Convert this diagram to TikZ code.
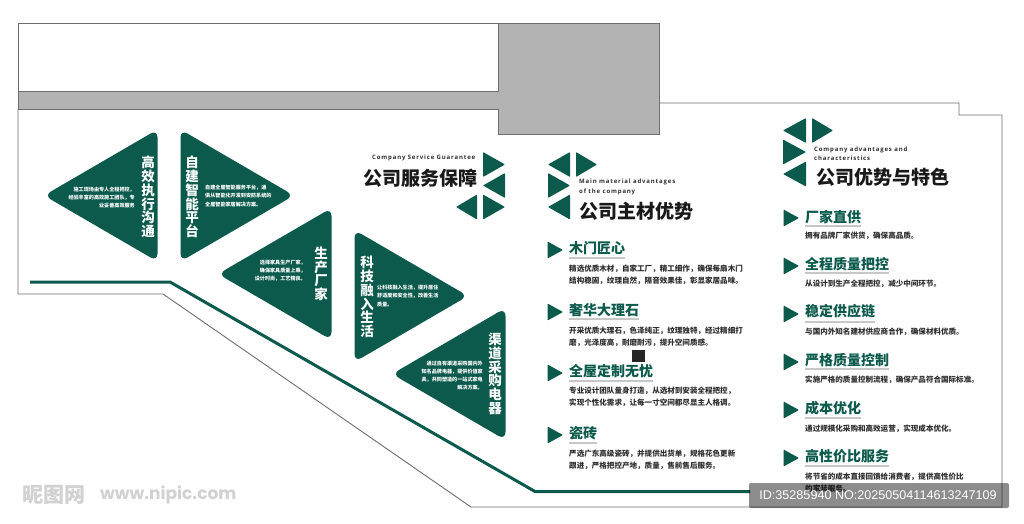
\documentclass[tikz,border=0pt]{standalone}
\usepackage{fontspec}
\setmainfont{Noto Sans CJK SC}
\newfontfamily\latn[LetterSpace=14]{Open Sans}
\newfontfamily\idfont{Liberation Sans}
\newfontfamily\wmfont{Poppins}
\definecolor{dg}{HTML}{0B5A4C}
\definecolor{ol}{HTML}{6E6E6E}
\definecolor{gf}{HTML}{B2B3B2}
\definecolor{bt}{HTML}{2E2E2E}
\tikzset{
  bigtri/.style={fill=dg,rounded corners=8pt},
  smtri/.style={fill=dg,rounded corners=0.8pt},
  wall/.style={draw=ol,line width=0.9pt,line join=miter},
  vtitle/.style={inner sep=0pt,text=white,align=center,font=\fontsize{13.5}{13.7}\selectfont\bfseries},
  tiny/.style={inner sep=0pt,text=white,font=\fontsize{5.1}{8.1}\selectfont\bfseries},
  head/.style={inner sep=0pt,anchor=west,text=black!90,font=\fontsize{19}{19}\selectfont\bfseries},
  eng/.style={inner sep=0pt,anchor=west,align=left,text=bt,font=\fontsize{6}{9.5}\selectfont\bfseries\latn},
  subhead/.style={inner sep=0pt,anchor=west,text=dg,font=\fontsize{14}{14}\selectfont\bfseries},
  body/.style={inner sep=0pt,anchor=west,align=left,text=bt,font=\fontsize{7.55}{12}\selectfont\bfseries},
  uline/.style={draw=black!22,line width=1.2pt},
}
\newcommand\tgL[2]{\fill[bigtri] (#1+0.5,#2-66) -- (#1+0.5,#2+66) -- (#1-113,#2) -- cycle;}
\newcommand\tgR[2]{\fill[bigtri] (#1-0.5,#2-66) -- (#1-0.5,#2+66) -- (#1+113,#2) -- cycle;}
\newcommand\smL[3]{\fill[smtri] (#2,#3-12.5) -- (#2,#3+12.5) -- (#1,#3) -- cycle;}
\newcommand\smR[3]{\fill[smtri] (#1,#3-12.5) -- (#1,#3+12.5) -- (#2,#3) -- cycle;}
\newcommand\rowitem[9]{%
  \fill[smtri] (#2-21.5,#3-8.5) -- (#2-21.5,#3+8.5) -- (#2-6,#3) -- cycle;
  \node[subhead] (#1t) at (#2,#4) {#5};
  \draw[uline] (#2,#6) -- (#7,#6);
  \node[body] (#1b) at (#2,#8) {#9};
}
\begin{document}
\begin{tikzpicture}[x=1pt,y=-1pt]
\useasboundingbox (0,0) rectangle (1024,523);
\fill[white] (0,0) rectangle (1024,523);
% walls
\draw[wall] (18,91) -- (18,23) -- (498,23) -- (498,91);
\draw[wall,fill=gf] (18,91) -- (498,91) -- (498,23) -- (659,23) -- (659,134) -- (498,134) -- (498,109) -- (18,109) -- cycle;
\draw[wall] (18,109) -- (18,294) -- (163,294) -- (471,507) -- (1002,507) -- (1002,115) -- (959,115) -- (959,103) -- (659,103);
\draw[dg,line width=3pt] (30,282) -- (170,282) -- (535,491.5) -- (750,491.5);
% big triangles
\tgL{157}{195.5}
\tgR{181}{195.5}
\tgL{331}{274}
\tgR{355}{296}
\tgL{505}{374}
\node[vtitle] (v1) at (148,197) {高\\效\\执\\行\\沟\\通};
\node[vtitle] (v2) at (192,197) {自\\建\\智\\能\\平\\台};
\node[vtitle] (v3) at (321,274) {生\\产\\厂\\家};
\node[vtitle] (v4) at (367,297) {科\\技\\融\\入\\生\\活};
\node[vtitle] (v5) at (495,374) {渠\\道\\采\\购\\电\\器};
\node[tiny,anchor=east,align=right] (d1) at (135,197.5) {施工现场由专人全程把控，\\经验丰富的高效施工团队，专\\业妥善高效服务};
\node[tiny,anchor=west,align=left] (d2) at (205,196) {自建全屋智能服务平台，通\\俱从智能化开发到安防系统的\\全屋智能家居解决方案。};
\node[tiny,anchor=east,align=right] (d3) at (306,271) {选择家具生产厂家，\\确保家具质量上乘，\\设计时尚，工艺精良。};
\node[tiny,anchor=west,align=left] (d4) at (377,296) {让科技融入生活，提升居住\\舒适度和安全性，改善生活\\质量。};
\node[tiny,anchor=east,align=right] (d5) at (483,375.5) {通过自有渠道采购国内外\\知名品牌电器，提供价值家\\具，共同塑造的一站式家电\\解决方案。};
% small triangle groups
\smR{483}{505}{164.5}
\smL{483}{505}{185.5}
\smL{456}{477}{207}
\smR{483}{505}{207}
\smL{548}{570}{164.5}
\smR{576}{597}{164.5}
\smR{548}{570}{185.5}
\smL{548}{570}{207}
\smL{783}{806}{130.5}
\smR{812}{833}{130.5}
\smR{783}{806}{152}
\smL{783}{806}{174}
% headings
\node[eng] (e1) at (372,158) {Company Service Guarantee};
\node[head] (h1) at (363,178) {公司服务保障};
\node[eng] (e2) at (579,187) {Main material advantages\\of the company};
\node[head] (h2) at (579,211) {公司主材优势};
\node[eng] (e3) at (814,153.5) {Company advantages and\\characteristics};
\node[head] (h3) at (816,177) {公司优势与特色};
% middle column
\rowitem{a}{569}{250}{248}{木门匠心}{258}{625}{275}{精选优质木材，自家工厂，精工细作，确保每扇木门\\结构稳固，纹理自然，隔音效果佳，彰显家居品味。}
\rowitem{b}{569}{312}{310}{奢华大理石}{319}{639}{337}{开采优质大理石，色泽纯正，纹理独特，经过精细打\\磨，光泽度高，耐磨耐污，提升空间质感。}
\rowitem{c}{569}{373}{371}{全屋定制无忧}{381}{653}{397}{专业设计团队量身打造，从选材到安装全程把控，\\实现个性化需求，让每一寸空间都尽显主人格调。}
\rowitem{d}{569}{435}{433}{瓷砖}{443}{597}{460}{严选广东高级瓷砖，并提供出货单，规格花色更新\\跟进，严格把控产地，质量，售前售后服务。}
\fill[black!85] (632,350) rectangle (645,362);
% right column
\rowitem{p}{805}{218}{217}{厂家直供}{226}{861}{236}{拥有品牌厂家供货，确保高品质。}
\rowitem{q}{805}{266}{264}{全程质量把控}{273}{889}{284}{从设计到生产全程把控，减少中间环节。}
\rowitem{r}{805}{314}{311}{稳定供应链}{322}{875}{332}{与国内外知名建材供应商合作，确保材料优质。}
\rowitem{s}{805}{362}{360}{严格质量控制}{369}{889}{380}{实施严格的质量控制流程，确保产品符合国际标准。}
\rowitem{t}{805}{410}{408}{成本优化}{418}{861}{429}{通过规模化采购和高效运营，实现成本优化。}
\rowitem{u}{805}{458}{456}{高性价比服务}{466}{889}{482.5}{将节省的成本直接回馈给消费者，提供高性价比\\的家装服务。}
% watermarks
\node[inner sep=0pt,anchor=west,text=black!18,font=\fontsize{21}{21}\selectfont\bfseries] (wm1) at (22,495) {昵图网};
\node[inner sep=0pt,anchor=west,text=black!18,font=\fontsize{17}{17}\selectfont\bfseries\wmfont] (wm2) at (100,495) {www.nipic.com};
\fill[black,opacity=0.45,rounded corners=2pt] (749,483) rectangle (1009,508);
\node[inner sep=0pt,text=white,font=\fontsize{12.6}{12.6}\selectfont\idfont] (wm3) at (878,495.5) {ID:35285940 NO:20250504114613247109};
\end{tikzpicture}
\end{document}
